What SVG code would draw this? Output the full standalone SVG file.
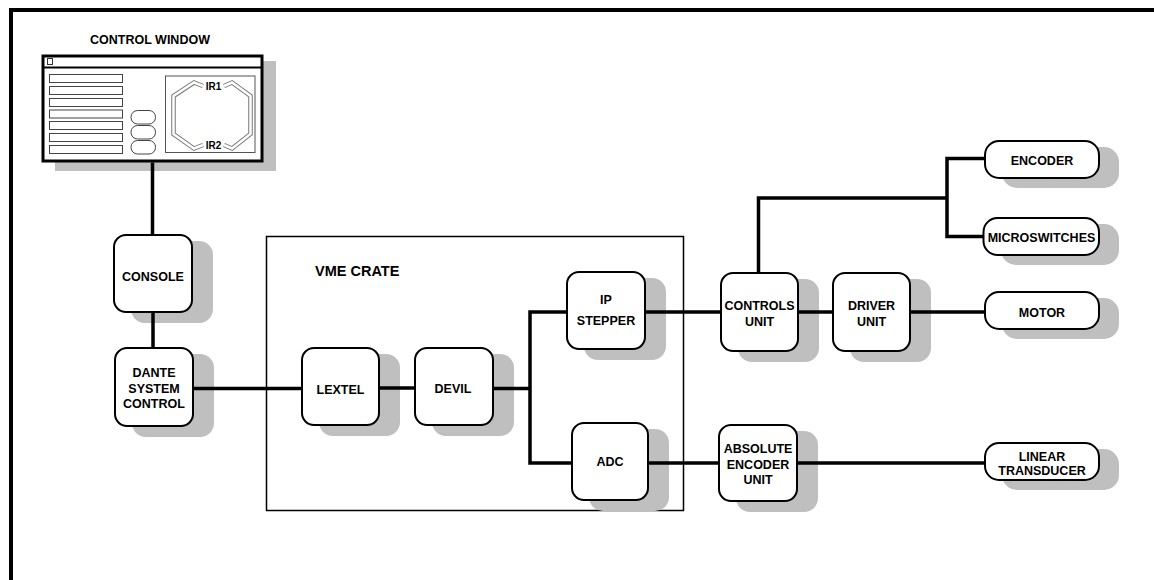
<svg xmlns="http://www.w3.org/2000/svg" width="1154" height="580" viewBox="0 0 1154 580">
<style>
.sh{fill:#bfbfbf}
.bx{fill:#fff;stroke:#000;stroke-width:2}
.t{font-family:"Liberation Sans",Arial,sans-serif;font-weight:bold;font-size:12.5px;fill:#000;text-anchor:middle}
.c{fill:none;stroke:#000;stroke-width:3.5;stroke-linejoin:miter}
.fld{fill:#fff;stroke:#444;stroke-width:1}
.trk1{fill:none;stroke:#777;stroke-width:4.5;stroke-linejoin:miter}
.trk2{fill:none;stroke:#fff;stroke-width:2.5;stroke-linejoin:miter}
</style>
<rect width="1154" height="580" fill="#fff"/>
<path d="M11 580 V10 H1154" fill="none" stroke="#000" stroke-width="4"/>

<g id="control-window">
  <text class="t" x="150" y="43.5">CONTROL WINDOW</text>
  <rect class="sh" x="55" y="61" width="221" height="110"/>
  <rect x="43" y="56" width="219" height="105" fill="#fff" stroke="#000" stroke-width="3"/>
  <path d="M43 67.5 H262" stroke="#000" stroke-width="2"/>
  <rect x="47.5" y="58.5" width="5" height="6" fill="#fff" stroke="#333" stroke-width="1"/>
  <rect class="fld" x="49.5" y="74.5" width="73" height="8"/>
  <rect class="fld" x="49.5" y="86.5" width="73" height="8"/>
  <rect class="fld" x="49.5" y="98.5" width="73" height="8"/>
  <rect class="fld" x="49.5" y="110" width="73" height="8"/>
  <rect class="fld" x="49.5" y="121.5" width="73" height="8"/>
  <rect class="fld" x="49.5" y="133.5" width="73" height="8"/>
  <rect class="fld" x="49.5" y="145.5" width="73" height="8"/>
  <rect class="fld" x="131" y="110.5" width="24.5" height="13.5" rx="6.5"/>
  <rect class="fld" x="131" y="125.5" width="24.5" height="13.5" rx="6.5"/>
  <rect class="fld" x="131" y="140.5" width="24.5" height="13.5" rx="6.5"/>
  <rect x="165.5" y="76" width="89.5" height="76.5" fill="#fff" stroke="#555" stroke-width="1"/>
  <path class="trk1" d="M203 86 L194 82.5 L173.5 96 V134 L194 148.5 L203 145 M224 86 L232 82.5 L250.5 96 V134 L232 148.5 L224 145"/>
  <path class="trk2" d="M203 86 L194 82.5 L173.5 96 V134 L194 148.5 L203 145 M224 86 L232 82.5 L250.5 96 V134 L232 148.5 L224 145"/>
  <text class="t" x="213.5" y="90" style="font-size:10px">IR1</text>
  <text class="t" x="213.5" y="148.5" style="font-size:10px">IR2</text>
</g>

<g id="vme-crate">
  <rect x="266.5" y="236.5" width="417" height="274" fill="none" stroke="#000" stroke-width="1.5"/>
  <text class="t" x="315" y="275.5" style="font-size:14.5px;text-anchor:start">VME CRATE</text>
</g>

<g id="console">
  <rect class="sh" x="131" y="241" width="82" height="82" rx="14"/>
  <rect class="bx" x="114" y="235" width="78" height="77" rx="12"/>
  <text class="t" x="153" y="280.5">CONSOLE</text>
</g>
<g id="dante">
  <rect class="sh" x="132" y="354" width="82" height="83" rx="14"/>
  <rect class="bx" x="115" y="348" width="78" height="78" rx="12"/>
  <text class="t" x="154" y="376.5">DANTE</text>
  <text class="t" x="154" y="392.5">SYSTEM</text>
  <text class="t" x="154" y="408">CONTROL</text>
</g>
<g id="lextel">
  <rect class="sh" x="319" y="354" width="81" height="82" rx="14"/>
  <rect class="bx" x="302" y="348" width="77" height="77" rx="12"/>
  <text class="t" x="340.5" y="394">LEXTEL</text>
</g>
<g id="devil">
  <rect class="sh" x="432" y="354" width="82" height="82" rx="14"/>
  <rect class="bx" x="415" y="348" width="78" height="77" rx="12"/>
  <text class="t" x="453" y="393">DEVIL</text>
</g>
<g id="ip-stepper">
  <rect class="sh" x="584" y="278" width="82" height="82" rx="14"/>
  <rect class="bx" x="567" y="272" width="78" height="77" rx="12"/>
  <text class="t" x="606" y="304">IP</text>
  <text class="t" x="606" y="325">STEPPER</text>
</g>
<g id="adc">
  <rect class="sh" x="589" y="429" width="80" height="82" rx="14"/>
  <rect class="bx" x="572" y="423" width="76" height="77" rx="12"/>
  <text class="t" x="610" y="466">ADC</text>
</g>
<g id="controls-unit">
  <rect class="sh" x="738" y="279" width="81" height="83" rx="14"/>
  <rect class="bx" x="721" y="273" width="77" height="78" rx="12"/>
  <text class="t" x="759.5" y="310">CONTROLS</text>
  <text class="t" x="759.5" y="326">UNIT</text>
</g>
<g id="driver-unit">
  <rect class="sh" x="850" y="279" width="81" height="83" rx="14"/>
  <rect class="bx" x="833" y="273" width="77" height="78" rx="12"/>
  <text class="t" x="871.5" y="310">DRIVER</text>
  <text class="t" x="871.5" y="326">UNIT</text>
</g>
<g id="absolute-encoder-unit">
  <rect class="sh" x="736" y="431" width="82" height="81" rx="14"/>
  <rect class="bx" x="719" y="425" width="78" height="76" rx="12"/>
  <text class="t" x="758" y="453">ABSOLUTE</text>
  <text class="t" x="758" y="468.5">ENCODER</text>
  <text class="t" x="758" y="484">UNIT</text>
</g>
<g id="encoder">
  <rect class="sh" x="1002" y="147" width="117" height="41" rx="15"/>
  <rect class="bx" x="985" y="141" width="114" height="37" rx="14"/>
  <text class="t" x="1042" y="164.5">ENCODER</text>
</g>
<g id="microswitches">
  <rect class="sh" x="1001" y="224" width="118" height="41" rx="15"/>
  <rect class="bx" x="983.5" y="218" width="115.5" height="37" rx="14"/>
  <text class="t" x="1041.5" y="242">MICROSWITCHES</text>
</g>
<g id="motor">
  <rect class="sh" x="1002" y="298" width="117" height="41" rx="15"/>
  <rect class="bx" x="985" y="292" width="114" height="37" rx="14"/>
  <text class="t" x="1042" y="317">MOTOR</text>
</g>
<g id="linear-transducer">
  <rect class="sh" x="1002" y="449" width="117" height="41" rx="15"/>
  <rect class="bx" x="985" y="443" width="114" height="37" rx="14"/>
  <text class="t" x="1042" y="460.5">LINEAR</text>
  <text class="t" x="1042" y="474.5">TRANSDUCER</text>
</g>

<g id="connectors">
  <path class="c" d="M152.5 162.5 V235"/>
  <path class="c" d="M153 312 V348"/>
  <path class="c" d="M193 388.5 H302"/>
  <path class="c" d="M379 388 H415"/>
  <path class="c" d="M493 388.5 H530"/>
  <path class="c" d="M567 312 H530 V463 H572"/>
  <path class="c" d="M645 312 H721"/>
  <path class="c" d="M758.5 273 V198 H947"/>
  <path class="c" d="M985 158.5 H947 V236.5 H983.5"/>
  <path class="c" d="M798 312 H833"/>
  <path class="c" d="M910 312 H985"/>
  <path class="c" d="M648 463 H719"/>
  <path class="c" d="M797 463 H985"/>
</g>
</svg>
